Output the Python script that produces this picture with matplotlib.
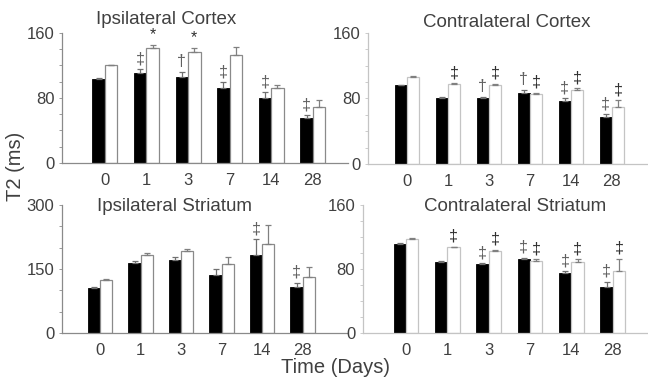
import matplotlib.pyplot as plt
from matplotlib.ticker import MultipleLocator

plt.rcParams['font.family'] = ['Liberation Sans', 'DejaVu Sans']

days = ["0", "1", "3", "7", "14", "28"]

# Ipsilateral cortex
ic_black = [103, 111, 106, 92, 80, 55]
ic_black_err = [1, 4, 6, 7, 7, 4]
ic_white = [120, 142, 137, 133, 92, 69]
ic_white_err = [1, 3, 4, 10, 4, 9]
ic_black_mark = ["", "‡", "†", "‡", "‡", "‡"]
ic_white_mark = ["", "*", "*", "", "", ""]

# Contralateral cortex
cc_black = [96, 81, 81, 87, 77, 58]
cc_black_err = [0.5, 0.5, 0.5, 3, 3, 3]
cc_white = [106, 98, 97, 86, 90, 69]
cc_white_err = [1, 1, 1, 1, 3, 9]
cc_black_mark = ["", "", "†", "†", "‡", "‡"]
cc_white_mark = ["", "‡", "‡", "‡", "‡", "‡"]

# Ipsilateral striatum
is_black = [106, 163, 171, 135, 182, 108]
is_black_err = [2, 5, 8, 15, 37, 10]
is_white = [125, 182, 192, 161, 208, 130]
is_white_err = [2, 6, 5, 17, 46, 25]
is_black_mark = ["", "", "", "", "‡", "‡"]
is_white_mark = ["", "", "", "", "", ""]

# Contralateral striatum
cs_black = [111, 89, 86, 92, 75, 58]
cs_black_err = [2, 1, 1, 2, 2, 6]
cs_white = [118, 107, 103, 90, 89, 78]
cs_white_err = [1, 1, 1, 2, 3, 15]
cs_black_mark = ["", "", "‡", "‡", "‡", "‡"]
cs_white_mark = ["", "‡", "‡", "‡", "‡", "‡"]

text_col = "#404040"
fig = plt.figure(figsize=(6.48, 3.78), dpi=100)

panels = [
    ("Ipsilateral Cortex", [0.0957, 0.569, 0.441, 0.344], (-1.03, 5.84), 160, 80, 20,
     ic_black, ic_black_err, ic_white, ic_white_err, ic_black_mark, ic_white_mark, "#8a8a8a", 0.364, 1.10),
    ("Contralateral Cortex", [0.568, 0.566, 0.432, 0.347], (-0.95, 5.88), 160, 80, 20,
     cc_black, cc_black_err, cc_white, cc_white_err, cc_black_mark, cc_white_mark, "#c4c4c4", 0.496, 1.08),
    ("Ipsilateral Striatum", [0.0957, 0.119, 0.44, 0.339], (-0.94, 6.1), 300, 150, 50,
     is_black, is_black_err, is_white, is_white_err, is_black_mark, is_white_mark, "#8a8a8a", 0.393, 0.985),
    ("Contralateral Striatum", [0.56, 0.119, 0.44, 0.339], (-1.04, 5.85), 160, 80, 20,
     cs_black, cs_black_err, cs_white, cs_white_err, cs_black_mark, cs_white_mark, "#c4c4c4", 0.533, 0.985),
]

w = 0.3
for (title, rect, xlim, ymax, major, minor, blk, blk_e, wht, wht_e, bm, wm, spine_col, tx, ty) in panels:
    ax = fig.add_axes(rect)
    x = list(range(len(days)))
    xb = [i - w / 2 for i in x]
    xw = [i + w / 2 for i in x]
    ax.bar(xb, blk, w, color="black", edgecolor="black", linewidth=0.6,
           yerr=[[0] * len(blk), blk_e], error_kw=dict(ecolor="#707070", capsize=2.5, elinewidth=0.9, capthick=0.9))
    ax.bar(xw, wht, w, color="white", edgecolor=spine_col, linewidth=0.9,
           yerr=[[0] * len(wht), wht_e], error_kw=dict(ecolor="#808080", capsize=2.5, elinewidth=0.9, capthick=0.9))
    for i in x:
        if bm[i]:
            ax.annotate(bm[i], (xb[i], blk[i] + blk_e[i]), xytext=(0, 2), textcoords="offset points",
                        ha="center", va="bottom", fontsize=11.5, color="#606060")
        if wm[i]:
            ax.annotate(wm[i], (xw[i], wht[i] + wht_e[i]), xytext=(0, 2), textcoords="offset points",
                        ha="center", va="bottom", fontsize=11.5, color="#303030")
    ax.set_xlim(*xlim)
    ax.set_ylim(0, ymax)
    ax.set_xticks(x)
    ax.set_xticklabels(days, fontsize=12, color=text_col)
    ax.tick_params(axis="x", length=0, pad=7)
    ax.yaxis.set_major_locator(MultipleLocator(major))
    ax.yaxis.set_minor_locator(MultipleLocator(minor))
    ax.tick_params(axis="y", which="both", length=2.5, width=0.6, color=spine_col,
                   labelsize=12, labelcolor=text_col, pad=3)
    for s in ["top", "right"]:
        ax.spines[s].set_visible(False)
    for s in ["left", "bottom"]:
        ax.spines[s].set_color(spine_col)
        ax.spines[s].set_linewidth(0.9)
    ax.text(tx, ty, title, transform=ax.transAxes, ha="center", va="center",
            fontsize=13.5, color=text_col)

fig.text(0.517, 0.028, "Time (Days)", ha="center", va="center", fontsize=14.5, color=text_col)
fig.text(0.024, 0.56, "T2 (ms)", ha="center", va="center", rotation=90, fontsize=14.5, color=text_col)

fig.savefig("out.png", dpi=100)
